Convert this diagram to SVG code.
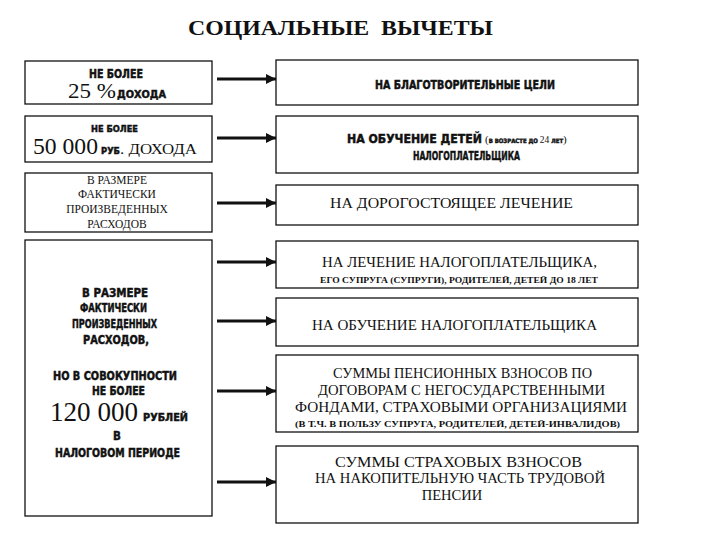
<svg xmlns="http://www.w3.org/2000/svg" width="720" height="540" viewBox="0 0 720 540">
<style>
.box{fill:#fff;stroke:#111;stroke-width:1.3}
.s{font-family:"Liberation Serif","Times New Roman",serif;fill:#111}
.n{font-family:"Liberation Sans Narrow","DejaVu Sans Condensed","Liberation Sans",sans-serif;font-weight:bold;fill:#111;stroke:#111;stroke-width:0.45}
.c{text-anchor:middle}
.arr{stroke:#111;stroke-width:3.2;fill:none}
</style>
<defs>
<marker id="ah" viewBox="0 0 10 10" refX="10" refY="5" markerWidth="3.2" markerHeight="3.2" markerUnits="strokeWidth" orient="auto">
<path d="M0,0 L10,5 L0,10 z" fill="#111"/>
</marker>
</defs>
<rect width="720" height="540" fill="#fff"/>
<text class="s" x="188" y="35" font-size="21" font-weight="bold" textLength="305" lengthAdjust="spacingAndGlyphs" xml:space="preserve">СОЦИАЛЬНЫЕ  ВЫЧЕТЫ</text>

<g id="left1">
<rect class="box" x="25" y="61" width="187" height="43"/>
<text class="n" x="89" y="78" font-size="11.5" textLength="54" lengthAdjust="spacingAndGlyphs">НЕ БОЛЕЕ</text>
<text class="s" x="68" y="98" font-size="21" textLength="48" lengthAdjust="spacingAndGlyphs">25 %</text>
<text class="n" x="117" y="98" font-size="10.5" textLength="49" lengthAdjust="spacingAndGlyphs">ДОХОДА</text>
</g>
<g id="left2">
<rect class="box" x="25" y="116" width="187" height="46"/>
<text class="n" x="91" y="132" font-size="9.5" textLength="47" lengthAdjust="spacingAndGlyphs">НЕ БОЛЕЕ</text>
<text class="s" x="33" y="154" font-size="23" textLength="65" lengthAdjust="spacingAndGlyphs">50 000</text>
<text class="n" x="101" y="154" font-size="9" textLength="19" lengthAdjust="spacingAndGlyphs">РУБ</text>
<text class="s" x="120" y="154" font-size="14" textLength="77" lengthAdjust="spacingAndGlyphs">. ДОХОДА</text>
</g>
<g id="left3">
<rect class="box" x="25" y="173" width="187" height="59"/>
<text class="s c" x="117" y="184" font-size="11.5">В РАЗМЕРЕ</text>
<text class="s c" x="117" y="198" font-size="11.5">ФАКТИЧЕСКИ</text>
<text class="s c" x="117" y="213" font-size="11.5">ПРОИЗВЕДЕННЫХ</text>
<text class="s c" x="117" y="228" font-size="11.5">РАСХОДОВ</text>
</g>
<g id="left4">
<rect class="box" x="25" y="240" width="187" height="276"/>
<text class="n" x="82" y="297" font-size="11.5" textLength="66" lengthAdjust="spacingAndGlyphs">В РАЗМЕРЕ</text>
<text class="n" x="80" y="312" font-size="11.5" textLength="67" lengthAdjust="spacingAndGlyphs">ФАКТИЧЕСКИ</text>
<text class="n" x="72" y="328" font-size="11.5" textLength="85" lengthAdjust="spacingAndGlyphs">ПРОИЗВЕДЕННЫХ</text>
<text class="n" x="83" y="344" font-size="11.5" textLength="66" lengthAdjust="spacingAndGlyphs">РАСХОДОВ,</text>
<text class="n" x="53" y="380" font-size="11.5" textLength="124" lengthAdjust="spacingAndGlyphs">НО В СОВОКУПНОСТИ</text>
<text class="n" x="92" y="395" font-size="11.5" textLength="53" lengthAdjust="spacingAndGlyphs">НЕ БОЛЕЕ</text>
<text class="s" x="50" y="421" font-size="27" textLength="88" lengthAdjust="spacingAndGlyphs">120 000</text>
<text class="n" x="143" y="421" font-size="10.5" textLength="45" lengthAdjust="spacingAndGlyphs">РУБЛЕЙ</text>
<text class="n c" x="117" y="440" font-size="11.5">В</text>
<text class="n" x="55" y="457" font-size="11.5" textLength="125" lengthAdjust="spacingAndGlyphs">НАЛОГОВОМ ПЕРИОДЕ</text>
</g>

<g id="right1">
<rect class="box" x="276" y="60" width="362" height="45"/>
<text class="n" x="375" y="89" font-size="12" textLength="180" lengthAdjust="spacingAndGlyphs">НА БЛАГОТВОРИТЕЛЬНЫЕ ЦЕЛИ</text>
</g>
<g id="right2">
<rect class="box" x="276" y="116" width="362" height="57"/>
<text class="n" x="347" y="143" font-size="12" textLength="135" lengthAdjust="spacingAndGlyphs">НА ОБУЧЕНИЕ ДЕТЕЙ</text>
<text class="s" x="485" y="143" font-size="11">(<tspan class="n" font-size="6" stroke-width="0.3">В ВОЗРАСТЕ ДО </tspan><tspan font-size="9.5">24</tspan><tspan class="n" font-size="6" stroke-width="0.3"> ЛЕТ</tspan>)</text>
<text class="n" x="413" y="160" font-size="12" textLength="107" lengthAdjust="spacingAndGlyphs">НАЛОГОПЛАТЕЛЬЩИКА</text>
</g>
<g id="right3">
<rect class="box" x="276" y="185" width="362" height="40"/>
<text class="s" x="330" y="208" font-size="14.5" textLength="243" lengthAdjust="spacingAndGlyphs">НА ДОРОГОСТОЯЩЕЕ ЛЕЧЕНИЕ</text>
</g>
<g id="right4">
<rect class="box" x="276" y="241" width="362" height="47"/>
<text class="s" x="322" y="267" font-size="14.5" textLength="275" lengthAdjust="spacingAndGlyphs">НА ЛЕЧЕНИЕ НАЛОГОПЛАТЕЛЬЩИКА,</text>
<text class="s" x="320" y="283" font-size="9" font-weight="bold" textLength="278" lengthAdjust="spacingAndGlyphs">ЕГО СУПРУГА (СУПРУГИ), РОДИТЕЛЕЙ, ДЕТЕЙ ДО 18 ЛЕТ</text>
</g>
<g id="right5">
<rect class="box" x="276" y="298" width="362" height="48"/>
<text class="s" x="312" y="330" font-size="14.5" textLength="285" lengthAdjust="spacingAndGlyphs">НА ОБУЧЕНИЕ НАЛОГОПЛАТЕЛЬЩИКА</text>
</g>
<g id="right6">
<rect class="box" x="276" y="355" width="362" height="77"/>
<text class="s" x="333" y="378" font-size="14.5" textLength="259" lengthAdjust="spacingAndGlyphs">СУММЫ ПЕНСИОННЫХ ВЗНОСОВ ПО</text>
<text class="s" x="318" y="395" font-size="14.5" textLength="287" lengthAdjust="spacingAndGlyphs">ДОГОВОРАМ С НЕГОСУДАРСТВЕННЫМИ</text>
<text class="s" x="295" y="412" font-size="14.5" textLength="332" lengthAdjust="spacingAndGlyphs">ФОНДАМИ, СТРАХОВЫМИ ОРГАНИЗАЦИЯМИ</text>
<text class="s" x="295" y="427" font-size="9" font-weight="bold" textLength="325" lengthAdjust="spacingAndGlyphs">(В Т.Ч. В ПОЛЬЗУ СУПРУГА, РОДИТЕЛЕЙ, ДЕТЕЙ-ИНВАЛИДОВ)</text>
</g>
<g id="right7">
<rect class="box" x="276" y="446" width="362" height="77"/>
<text class="s" x="335" y="467" font-size="14.5" textLength="247" lengthAdjust="spacingAndGlyphs">СУММЫ СТРАХОВЫХ ВЗНОСОВ</text>
<text class="s" x="315" y="483" font-size="14.5" textLength="290" lengthAdjust="spacingAndGlyphs">НА НАКОПИТЕЛЬНУЮ ЧАСТЬ ТРУДОВОЙ</text>
<text class="s c" x="452" y="500" font-size="14.5">ПЕНСИИ</text>
</g>

<g id="connectors">
<line class="arr" x1="217" y1="79" x2="276" y2="79" marker-end="url(#ah)"/>
<line class="arr" x1="217" y1="138" x2="276" y2="138" marker-end="url(#ah)"/>
<line class="arr" x1="217" y1="203" x2="276" y2="203" marker-end="url(#ah)"/>
<line class="arr" x1="217" y1="262" x2="276" y2="262" marker-end="url(#ah)"/>
<line class="arr" x1="217" y1="321" x2="276" y2="321" marker-end="url(#ah)"/>
<line class="arr" x1="217" y1="391" x2="276" y2="391" marker-end="url(#ah)"/>
<line class="arr" x1="217" y1="482" x2="276" y2="482" marker-end="url(#ah)"/>
</g>
</svg>
